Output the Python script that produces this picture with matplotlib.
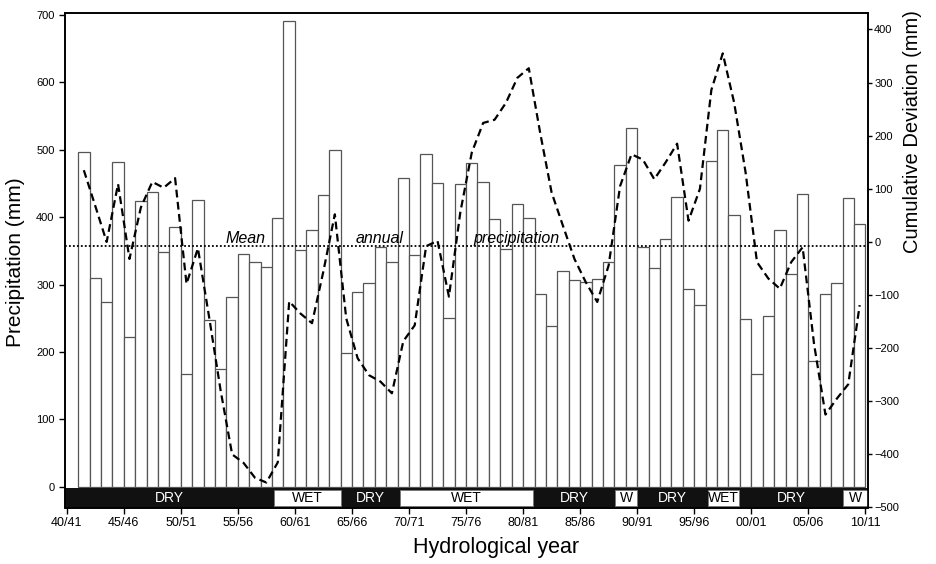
"""
Annual precipitation with cumulative deviation from the mean, 40/41 - 10/11.
"""
import numpy as np
import matplotlib
matplotlib.use("Agg")
import matplotlib.pyplot as plt
from matplotlib.patches import Rectangle

plt.rcParams["font.family"] = ["Liberation Sans", "DejaVu Sans"]

# ── data ─────────────────────────────────────────────────────────────────────
tick_labels = ["40/41", "45/46", "50/51", "55/56", "60/61", "65/66", "70/71", "75/76",
               "80/81", "85/86", "90/91", "95/96", "00/01", "05/06", "10/11"]

precip = [497, 310, 274, 482, 222, 424, 438, 349, 386, 167,
          425, 247, 175, 282, 345, 333, 326, 399, 691, 352,
          381, 433, 500, 198, 289, 302, 355, 333, 458, 344,
          493, 451, 251, 449, 481, 452, 397, 353, 419, 399,
          286, 238, 320, 306, 304, 308, 333, 478, 532, 356,
          324, 367, 430, 293, 269, 484, 529, 403, 249, 167,
          253, 381, 316, 434, 187, 286, 302, 429, 390]

cum_dev = [135, 68, 0, 109, -32, 65, 113, 102, 120, -79,
           -12, -144, -281, -400, -416, -444, -453, -415, -112, -135,
           -153, -55, 52, -144, -219, -251, -263, -285, -187, -157,
           -8, 2, -103, 56, 168, 224, 230, 262, 309, 327,
           205, 93, 30, -32, -76, -113, -44, 105, 165, 155,
           118, 150, 185, 40, 100, 286, 355, 262, 131, -38,
           -69, -88, -38, -10, -192, -325, -295, -268, -119]

MEAN_P = 357

period_labels = ["DRY", "WET", "DRY", "WET", "DRY", "W", "DRY", "WET", "DRY", "W"]
period_edges = [-0.15, 18.2, 24.0, 29.2, 40.9, 48.05, 50.0, 56.2, 58.95, 68.0, 70.23]

# ── figure ───────────────────────────────────────────────────────────────────
W, H = 937, 564
fig = plt.figure(figsize=(W / 100, H / 100), dpi=100)
ax = fig.add_axes([65 / W, 1 - 507.5 / H, 803 / W, 494.5 / H])

x = np.arange(1, len(precip) + 1)
ax.bar(x, precip, width=1.0, align="edge", color="white",
       edgecolor="#555555", linewidth=0.9, zorder=2)

ax.axhline(MEAN_P, color="black", ls=(0, (1, 1.2)), lw=1.3, zorder=3)
for word, xpos in [("Mean", 15.7), ("annual", 27.4), ("precipitation", 39.4)]:
    ax.text(xpos, MEAN_P + 4.5, word, ha="center", va="baseline",
            fontsize=11.5, style="italic", zorder=5)

# wet / dry band along the bottom
xmin, xmax = period_edges[0], period_edges[-1]
ax.add_patch(Rectangle((xmin, -30.9), xmax - xmin, 28.9, facecolor="#111111",
                       edgecolor="none", zorder=4))
for lab, x0, x1 in zip(period_labels, period_edges[:-1], period_edges[1:]):
    wet = lab != "DRY"
    if wet:
        ax.add_patch(Rectangle((x0, -28.2), x1 - x0, 23.3, facecolor="white",
                               edgecolor="#777777", linewidth=0.6, zorder=4))
    ax.text((x0 + x1) / 2, -16.5, lab, ha="center", va="center", fontsize=10,
            color="black" if wet else "white", zorder=5)

ax.set_xlim(xmin, xmax)
ax.set_ylim(-30.9, 703)
ax.set_xticks(range(0, 71, 5))
ax.set_xticklabels(tick_labels)
ax.set_yticks(range(0, 701, 100))
ax.tick_params(axis="x", direction="out", length=4.5, width=1, labelsize=9, pad=2.5)
ax.tick_params(axis="y", direction="out", length=4.5, width=1, labelsize=8, pad=3)

ax2 = ax.twinx()
ax2.plot(x + 0.5, cum_dev, color="black", ls=(0, (3.5, 2)), lw=1.6, zorder=3)
ax2.set_ylim(-499, 431)
ax2.set_yticks(range(-500, 401, 100))
ax2.tick_params(axis="y", direction="out", length=3, width=1, labelsize=8, pad=1.5)

for a in (ax, ax2):
    for sp in a.spines.values():
        sp.set_linewidth(1.2)

fig.text(16 / W, 1 - 262 / H, "Precipitation (mm)", rotation=90,
         ha="center", va="center", fontsize=15)
fig.text(913 / W, 1 - 132 / H, "Cumulative Deviation (mm)", rotation=90,
         ha="center", va="center", fontsize=14.5)
fig.text(496.5 / W, 1 - 548 / H, "Hydrological year", ha="center", va="center",
         fontsize=15.5)

fig.savefig("out.png", dpi=100)
